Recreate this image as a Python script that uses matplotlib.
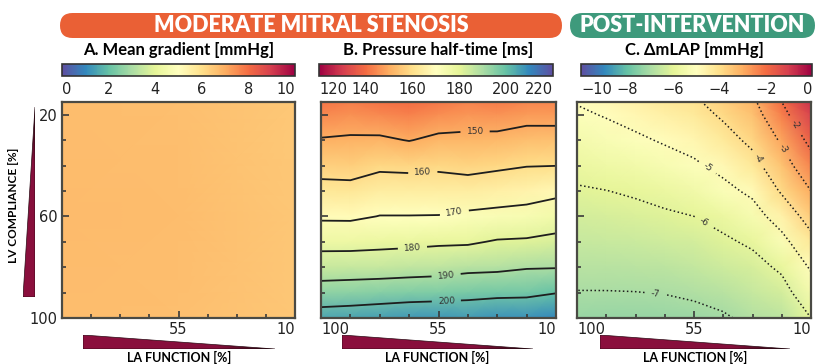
import numpy as np
import matplotlib
matplotlib.use("Agg")
import matplotlib.pyplot as plt
from matplotlib.patches import FancyBboxPatch, Polygon
from matplotlib.cm import ScalarMappable
from matplotlib.colors import Normalize, LinearSegmentedColormap

# LA function (x) and LV compliance (y) sampling, in %
la_function = [100, 88.75, 77.5, 66.25, 55, 43.75, 32.5, 21.25, 10]
lv_compliance = [15, 20, 30, 40, 50, 60, 70, 80, 90, 100]

# A. mean gradient [mmHg] on a coarse grid
la_function_a = [100, 55, 10]
lv_compliance_a = [15, 60, 100]
mean_gradient = [
    [6.70, 6.65, 6.45],
    [6.75, 6.70, 6.50],
    [6.70, 6.65, 6.50],
]

# B. pressure half-time [ms]
pht = [
    [141.2, 142.8, 140.9, 140.0, 141.6, 143.5, 142.6, 144.2, 144.0],
    [144.3, 145.6, 144.4, 143.3, 145.0, 146.3, 145.8, 147.3, 147.2],
    [150.6, 151.1, 151.3, 149.7, 151.8, 151.9, 152.2, 153.5, 153.6],
    [156.8, 156.7, 158.5, 158.1, 158.5, 157.5, 158.6, 159.7, 159.9],
    [162.8, 162.4, 164.5, 164.5, 164.5, 164.2, 165.3, 166.2, 167.9],
    [168.6, 168.5, 170.2, 170.2, 170.3, 171.7, 172.5, 173.3, 175.2],
    [176.9, 176.9, 177.5, 178.0, 178.7, 178.9, 180.7, 181.1, 182.4],
    [185.2, 185.4, 185.6, 186.1, 186.6, 187.8, 188.2, 189.4, 189.6],
    [194.1, 194.6, 195.2, 195.8, 196.2, 197.2, 197.8, 198.1, 199.7],
    [204.4, 205.0, 205.9, 206.9, 207.3, 206.6, 208.0, 208.0, 209.9],
]

# C. change in mean LA pressure after intervention [mmHg]
d_mlap = [
    [-4.96, -4.77, -4.54, -4.29, -4.12, -3.68, -3.17, -2.00, -0.81],
    [-5.12, -4.95, -4.74, -4.50, -4.32, -3.88, -3.38, -2.29, -1.13],
    [-5.45, -5.30, -5.13, -4.92, -4.71, -4.32, -3.81, -2.88, -1.75],
    [-5.78, -5.66, -5.52, -5.33, -5.12, -4.77, -4.29, -3.40, -2.38],
    [-6.07, -6.01, -5.91, -5.75, -5.56, -5.23, -4.83, -3.90, -3.00],
    [-6.31, -6.26, -6.21, -6.11, -6.00, -5.76, -5.36, -4.59, -3.63],
    [-6.55, -6.51, -6.47, -6.40, -6.30, -6.12, -5.88, -5.27, -4.26],
    [-6.79, -6.77, -6.74, -6.69, -6.60, -6.44, -6.26, -5.87, -4.90],
    [-7.02, -7.02, -7.01, -6.98, -6.90, -6.76, -6.54, -6.30, -5.46],
    [-7.26, -7.27, -7.28, -7.26, -7.20, -7.08, -6.84, -6.70, -6.00],
]

pht_levels = [150, 160, 170, 180, 190, 200]
mlap_levels = [-7, -6, -5, -4, -3, -2]

TITLE_FONT = ["Lato", "DejaVu Sans"]
W, H = 817, 364


def fx(px):
    return px / W


def fy(py):
    return 1 - py / H


def end_align(labels):
    # keep the end labels inside their axis span
    labels[0].set_ha("left")
    labels[-1].set_ha("right")


def style_axes(ax, xlabels=True, ylabels=False):
    ax.set_xlim(100, 10)
    ax.set_ylim(100, 15)
    ax.set_xticks([100, 55, 10])
    ax.set_xticks([88.75, 77.5, 66.25, 43.75, 32.5, 21.25], minor=True)
    ax.set_yticks([20, 60, 100])
    ax.set_yticks([30, 40, 50, 70, 80, 90], minor=True)
    ax.set_xticklabels(["100", "55", "10"] if xlabels else ["", "55", "10"])
    ax.set_yticklabels(["20", "60", "100"] if ylabels else [])
    ax.tick_params(which="major", direction="in", length=5, width=1.2,
                   color="#3a3a3a", labelsize=10.5, pad=3, labelcolor="#222222")
    ax.tick_params(which="minor", direction="in", length=3, width=1.2,
                   color="#3a3a3a")
    end_align(ax.get_xticklabels())
    for s in ax.spines.values():
        s.set_color("#4a4a44")
        s.set_linewidth(1.6)


def wedge(verts, tip_right):
    # maroon wedge fading to black at its tip
    x0 = min(v[0] for v in verts)
    x1 = max(v[0] for v in verts)
    y0 = min(v[1] for v in verts)
    y1 = max(v[1] for v in verts)
    wax = fig.add_axes([fx(x0), fy(y1), fx(x1 - x0), (y1 - y0) / H])
    wax.set_xlim(x0, x1)
    wax.set_ylim(y1, y0)
    wax.axis("off")
    ramp = np.linspace(0, 1, 256)
    grad = ramp[None, :] if tip_right else ramp[::-1][:, None]
    img = wax.imshow(grad, cmap=wedge_cmap, aspect="auto",
                     extent=[x0, x1, y1, y0], interpolation="bilinear")
    poly = Polygon(verts, closed=True, facecolor="none", edgecolor="#2a0a14",
                   linewidth=0.5)
    wax.add_patch(poly)
    img.set_clip_path(poly)


fig = plt.figure(figsize=(8.17, 3.64), dpi=100)
wedge_cmap = LinearSegmentedColormap.from_list(
    "wedge", [(0, "#8c0f3e"), (0.7, "#85103c"), (0.92, "#3a0818"), (1, "#000000")])

panels = [
    (62, 295, 62, 295, "A. Mean gradient [mmHg]", "Spectral_r", 0, 10, [0, 2, 4, 6, 8, 10]),
    (321, 556, 319, 553, "B. Pressure half-time [ms]", "Spectral", 120, 220, [120, 140, 160, 180, 200, 220]),
    (577, 811, 581, 812, "C. \u0394mLAP [mmHg]", "Spectral_r", -10, 0, [-10, -8, -6, -4, -2, 0]),
]

axes = []
for i, (x0, x1, c0, c1, title, cmap, vmin, vmax, cticks) in enumerate(panels):
    ax = fig.add_axes([fx(x0), fy(318), fx(x1 - x0), (318 - 102) / H])
    axes.append(ax)
    cax = fig.add_axes([fx(c0), fy(76), fx(c1 - c0), 12 / H])
    sm = ScalarMappable(norm=Normalize(vmin, vmax), cmap=cmap)
    cb = fig.colorbar(sm, cax=cax, orientation="horizontal", ticks=cticks)
    cb.ax.tick_params(length=0, labelsize=10.5, pad=4, labelcolor="#222222")
    end_align(cb.ax.get_xticklabels())
    cb.outline.set_edgecolor("#333333")
    cb.outline.set_linewidth(1.2)
    fig.text(fx((x0 + x1) / 2), fy(50), title, ha="center", va="center",
             fontsize=12, fontweight="bold", family=TITLE_FONT)

# A
axA = axes[0]
axA.pcolormesh(la_function_a, lv_compliance_a, mean_gradient, shading="gouraud",
               cmap="Spectral_r", vmin=0, vmax=10)
style_axes(axA, xlabels=False, ylabels=True)

# B
axB = axes[1]
axB.pcolormesh(la_function, lv_compliance, pht, shading="gouraud",
               cmap="Spectral", vmin=120, vmax=220)
style_axes(axB)
cs = axB.contour(la_function, lv_compliance, pht, levels=pht_levels,
                 colors="#1e1e1e", linewidths=1.3)
axB.clabel(cs, fmt="%d", fontsize=6.5, colors="#333333", inline=True, inline_spacing=6,
           manual=[(41, 26), (61, 43), (49, 58), (65, 72), (52, 84), (52, 93)])

# C
axC = axes[2]
axC.pcolormesh(la_function, lv_compliance, d_mlap, shading="gouraud",
               cmap="Spectral_r", vmin=-10, vmax=0)
style_axes(axC)
cs = axC.contour(la_function, lv_compliance, d_mlap, levels=mlap_levels,
                 colors="#1e1e1e", linewidths=1.1, linestyles=":")
axC.clabel(cs, fmt="%d", fontsize=6.5, colors="#333333", inline=True, inline_spacing=6,
           manual=[(50, 60), (50, 41), (30, 37), (20, 33), (16.5, 24)])
axC.clabel(cs, levels=[-7], fmt="%d", fontsize=6.5, colors="#333333", inline=True,
           inline_spacing=6, manual=[(70, 90.3)])

# section banners
banners = [
    (60, 562, "#ea6035", "MODERATE MITRAL STENOSIS"),
    (570, 815, "#3e9a7c", "POST-INTERVENTION"),
]
for b0, b1, col, label in banners:
    patch = FancyBboxPatch((fx(b0), fy(38)), fx(b1 - b0), 25 / H,
                           boxstyle="round,pad=0,rounding_size=%f" % (12.5 / W),
                           mutation_aspect=W / H,
                           transform=fig.transFigure, facecolor=col, edgecolor="none")
    fig.patches.append(patch)
    fig.text(fx((b0 + b1) / 2), fy(26), label, ha="center", va="center",
             fontsize=15.5, fontweight="heavy", color="white", family=TITLE_FONT)

# direction wedges
wedge([(35, 107), (23, 297), (35, 297)], tip_right=False)
fig.text(fx(14), fy(205), "LV COMPLIANCE [%]", rotation=90, ha="center", va="center",
         fontsize=8.5, fontweight="bold", family=TITLE_FONT)

for w0, w1 in [(83, 275), (342, 533), (600, 790)]:
    wedge([(w0, 335), (w0, 349), (w1, 349)], tip_right=True)
    fig.text(fx((w0 + w1) / 2), fy(357), "LA FUNCTION [%]", ha="center", va="center",
             fontsize=9, fontweight="bold", family=TITLE_FONT)

fig.savefig("out.png", dpi=100)
